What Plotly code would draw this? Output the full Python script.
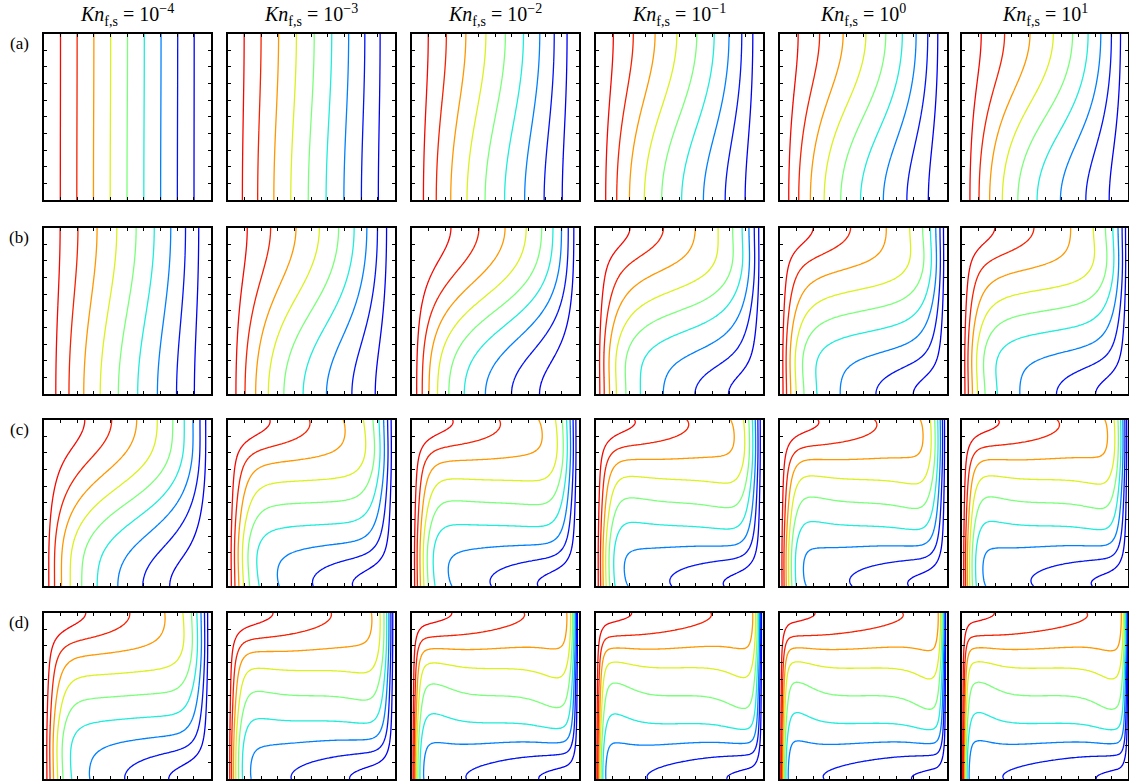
import numpy as np
import plotly.graph_objects as go

# ---------------- data ----------------
kn_exponents = ["\u22124", "\u22123", "\u22122", "\u22121", "0", "1"]
row_labels = ["(a)", "(b)", "(c)", "(d)"]
isotherm_levels = [0.1, 0.2, 0.3, 0.4, 0.5, 0.6, 0.7, 0.8, 0.9]
isotherm_colors = ["#0000f4", "#004dff", "#00b3ff", "#29ffce", "#7bff7b",
                   "#ceff29", "#ffc600", "#ff6800", "#f30900"]

# per-panel parameters of the temperature field; rows (a)-(d), columns Kn = 1e-4 .. 1e1
bl_thickness = [          # wall boundary-layer thickness
    [2.0, 0.80, 0.50, 0.42, 0.38, 0.35],
    [0.52, 0.35, 0.13, 0.12, 0.10, 0.10],
    [0.13, 0.13, 0.11, 0.10, 0.09, 0.08],
    [0.115, 0.08, 0.05, 0.045, 0.04, 0.035],
]
stratification = [        # vertical temperature range of the core
    [0.10, 0.20, 0.30, 0.40, 0.45, 0.50],
    [0.28, 0.50, 0.50, 0.52, 0.54, 0.55],
    [0.50, 0.60, 0.62, 0.63, 0.64, 0.64],
    [0.62, 0.67, 0.68, 0.68, 0.69, 0.69],
]
core_shape = [            # 0 = conduction-like regime, 1 = boundary-layer regime
    [0.0, 0.0, 0.0, 0.0, 0.0, 0.0],
    [0.0, 0.0, 0.0, 0.1, 0.15, 0.15],
    [0.0, 0.6, 0.75, 0.85, 0.9, 0.9],
    [0.5, 0.8, 0.95, 1.0, 1.0, 1.0],
]
core_flattening = [0.0, 0.0, 1.0, 0.2]   # per row: how flat the core profile is near top/bottom
tilt_mid = [              # horizontal temperature drop across the core at mid-height
    [0.0, 0.0, 0.0, 0.0, 0.0, 0.0],
    [0.0, 0.0, 0.45, 0.17, 0.12, 0.10],
    [0.40, 0.06, 0.04, 0.03, 0.03, 0.03],
    [0.06, 0.04, 0.03, 0.03, 0.02, 0.02],
]
tilt_end = [              # extra horizontal drop along top / bottom walls
    [0.0, 0.0, 0.0, 0.0, 0.0, 0.0],
    [0.0, 0.0, 0.05, 0.24, 0.27, 0.27],
    [0.13, 0.32, 0.30, 0.28, 0.26, 0.25],
    [0.28, 0.24, 0.20, 0.18, 0.17, 0.16],
]
hump = [                  # undershoot next to the walls
    [0.0, 0.0, 0.0, 0.0, 0.0, 0.0],
    [0.0, 0.0, 0.0, 0.0, 0.01, 0.015],
    [0.0, 0.03, 0.04, 0.045, 0.045, 0.045],
    [0.04, 0.045, 0.055, 0.055, 0.055, 0.055],
]
hump_width = [
    [0.15, 0.15, 0.15, 0.15, 0.15, 0.15],
    [0.15, 0.15, 0.15, 0.15, 0.15, 0.15],
    [0.20, 0.18, 0.16, 0.15, 0.14, 0.13],
    [0.14, 0.13, 0.12, 0.11, 0.10, 0.10],
]

# ---------------- layout geometry (pixels) ----------------
W, H = 1129, 783
col_left = [44, 228, 412, 596, 780, 962]
row_top = [33.5, 227.5, 419.5, 612.5]
panel = 166.5

N = 141
s = np.linspace(0, 1, N)
grid = s - 0.7 / (2 * np.pi) * np.sin(2 * np.pi * s)
X, Y = np.meshgrid(grid, grid)


def sinh_ratio(a, b):
    return np.exp(a - b) * (1 - np.exp(-2 * a)) / (1 - np.exp(-2 * b))


def erfc(z):
    t = 1.0 / (1.0 + 0.3275911 * z)
    poly = t * (0.254829592 + t * (-0.284496736 + t * (1.421413741 +
                t * (-1.453152027 + t * 1.061405429))))
    return poly * np.exp(-z * z)


def wall_profile(dist, d, m):
    p_exp = sinh_ratio((1 - dist) / d, 1 / d)
    e1 = erfc(np.array(1 / d))
    p_erf = (erfc(dist / d) - e1) / (1 - e1)
    return (1 - m) * p_exp + m * p_erf


def temperature_field(r, c):
    d = bl_thickness[r][c]
    S = stratification[r][c]
    m = core_shape[r][c]
    beta = core_flattening[r]
    eta = Y - 0.5
    f_a = (0.5135 * eta + 3.333 * eta ** 3 - 9.85 * eta ** 5) / 0.732
    f_b = (0.6818 * eta + 1.8038 * eta ** 3 - 7.565 * eta ** 5) / 0.66
    f_strong = (1 - beta) * f_a + beta * f_b
    f_weak = 0.5 * np.sin(np.pi * eta)
    phi = (1 - m) * f_weak + m * f_strong
    G = tilt_mid[r][c] + tilt_end[r][c] * np.sin(np.pi * eta) ** 6
    Tc = 0.5 + S * phi + G * (0.5 - X)
    PL = wall_profile(X, d, m)
    PR = wall_profile(1 - X, d, m)
    w = hump_width[r][c]
    bump = 4 * hump[r][c] * Tc * (1 - Tc) * np.sin(np.pi * Y)
    hl = ((X / w) * np.exp(1 - X / w)) ** 2
    hr = (((1 - X) / w) * np.exp(1 - (1 - X) / w)) ** 2
    return Tc + (1 - Tc) * PL - Tc * PR - bump * hl + bump * hr


colorscale = [[0.0, isotherm_colors[0]]] + \
    [[lv, c] for lv, c in zip(isotherm_levels, isotherm_colors)] + \
    [[1.0, isotherm_colors[-1]]]

fig = go.Figure()
annotations = []
k = 0
for r in range(4):
    for c in range(6):
        k += 1
        xa = "x" if k == 1 else f"x{k}"
        ya = "y" if k == 1 else f"y{k}"
        T = temperature_field(r, c)
        fig.add_trace(go.Contour(
            x=grid.astype(np.float32), y=grid.astype(np.float32), z=T.astype(np.float32),
            xaxis=xa, yaxis=ya,
            contours=dict(start=isotherm_levels[0], end=isotherm_levels[-1] + 1e-6,
                          size=0.1, coloring="lines"),
            colorscale=colorscale, zmin=0, zmax=1, showscale=False,
            line=dict(width=1.3, smoothing=1), hoverinfo="skip",
        ))
        x0 = col_left[c] / W
        x1 = min((col_left[c] + panel) / W, 0.9995)
        y1 = 1 - row_top[r] / H
        y0 = 1 - (row_top[r] + panel) / H
        ax = dict(domain=[x0, x1], range=[0, 1], showticklabels=False, ticks="inside",
                  ticklen=3, tickwidth=1, tickcolor="black", tick0=0, dtick=0.1,
                  showline=True, linewidth=2, linecolor="black", mirror="ticks",
                  showgrid=False, zeroline=False, fixedrange=True)
        fig.layout[("xaxis" if k == 1 else f"xaxis{k}")] = dict(ax, anchor=ya)
        fig.layout[("yaxis" if k == 1 else f"yaxis{k}")] = dict(ax, domain=[y0, y1], anchor=xa)

for c in range(6):
    annotations.append(dict(
        x=(col_left[c] + panel / 2) / W, y=1 - 15 / H, xref="paper", yref="paper",
        text=f"<i>Kn</i><sub>f,s</sub>&nbsp;=&nbsp;10<sup>{kn_exponents[c]}</sup>",
        showarrow=False, xanchor="center", yanchor="middle",
        font=dict(family="Liberation Serif", size=20, color="black")))
for r in range(4):
    annotations.append(dict(
        x=19 / W, y=1 - (row_top[r] + 10) / H, xref="paper", yref="paper",
        text=row_labels[r], showarrow=False, xanchor="center", yanchor="middle",
        font=dict(family="Liberation Serif", size=17, color="black")))

fig.update_layout(width=W, height=H, autosize=False, margin=dict(l=0, r=0, t=0, b=0),
                  paper_bgcolor="white", plot_bgcolor="white", showlegend=False,
                  annotations=annotations)
fig.write_html("out.html", config={"displayModeBar": False},
               post_script="document.body.style.margin='0';")
